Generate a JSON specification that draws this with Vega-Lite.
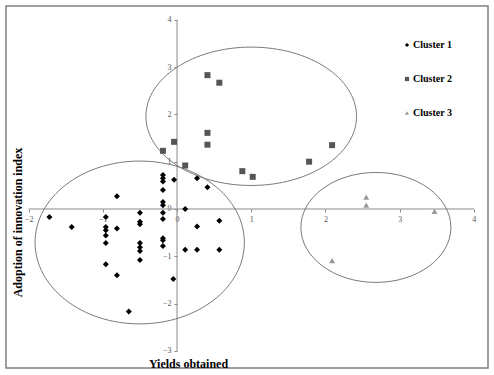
{
  "$schema": "https://vega.github.io/schema/vega-lite/v6.json",
  "width": 482,
  "height": 362,
  "autosize": {"type": "none"},
  "padding": {"left": 6, "top": 6, "right": 6, "bottom": 7},
  "background": "white",
  "config": {
    "view": {"stroke": "#808080", "strokeWidth": 1.5},
    "font": "Liberation Serif",
    "legend": {"labelFont": "Liberation Serif"}
  },
  "datasets": {
    "pts": [
      {"cluster": "Cluster 1", "x": -1.72, "y": -0.17},
      {"cluster": "Cluster 1", "x": -1.42, "y": -0.38},
      {"cluster": "Cluster 1", "x": -0.96, "y": -0.17},
      {"cluster": "Cluster 1", "x": -0.96, "y": -0.38},
      {"cluster": "Cluster 1", "x": -0.96, "y": -0.45},
      {"cluster": "Cluster 1", "x": -0.96, "y": -0.56},
      {"cluster": "Cluster 1", "x": -0.96, "y": -0.72},
      {"cluster": "Cluster 1", "x": -0.96, "y": -1.17},
      {"cluster": "Cluster 1", "x": -0.81, "y": 0.27},
      {"cluster": "Cluster 1", "x": -0.81, "y": -0.41},
      {"cluster": "Cluster 1", "x": -0.81, "y": -1.40},
      {"cluster": "Cluster 1", "x": -0.65, "y": -2.17},
      {"cluster": "Cluster 1", "x": -0.50, "y": -0.08},
      {"cluster": "Cluster 1", "x": -0.50, "y": -0.27},
      {"cluster": "Cluster 1", "x": -0.50, "y": -0.32},
      {"cluster": "Cluster 1", "x": -0.50, "y": -0.72},
      {"cluster": "Cluster 1", "x": -0.50, "y": -0.81},
      {"cluster": "Cluster 1", "x": -0.50, "y": -0.89},
      {"cluster": "Cluster 1", "x": -0.50, "y": -1.08},
      {"cluster": "Cluster 1", "x": -0.19, "y": 0.72},
      {"cluster": "Cluster 1", "x": -0.19, "y": 0.65},
      {"cluster": "Cluster 1", "x": -0.19, "y": 0.58},
      {"cluster": "Cluster 1", "x": -0.19, "y": 0.40},
      {"cluster": "Cluster 1", "x": -0.19, "y": 0.15},
      {"cluster": "Cluster 1", "x": -0.19, "y": 0.08},
      {"cluster": "Cluster 1", "x": -0.19, "y": -0.08},
      {"cluster": "Cluster 1", "x": -0.19, "y": -0.21},
      {"cluster": "Cluster 1", "x": -0.19, "y": -0.62},
      {"cluster": "Cluster 1", "x": -0.19, "y": -0.66},
      {"cluster": "Cluster 1", "x": -0.19, "y": -0.78},
      {"cluster": "Cluster 1", "x": -0.04, "y": 0.62},
      {"cluster": "Cluster 1", "x": -0.05, "y": -1.48},
      {"cluster": "Cluster 1", "x": 0.11, "y": 0.0},
      {"cluster": "Cluster 1", "x": 0.11, "y": -0.86},
      {"cluster": "Cluster 1", "x": 0.27, "y": 0.65},
      {"cluster": "Cluster 1", "x": 0.27, "y": -0.37},
      {"cluster": "Cluster 1", "x": 0.27, "y": -0.86},
      {"cluster": "Cluster 1", "x": 0.41, "y": 0.46},
      {"cluster": "Cluster 1", "x": 0.57, "y": -0.25},
      {"cluster": "Cluster 1", "x": 0.57, "y": -0.86},
      {"cluster": "Cluster 2", "x": -0.19, "y": 1.23},
      {"cluster": "Cluster 2", "x": -0.04, "y": 1.42},
      {"cluster": "Cluster 2", "x": 0.11, "y": 0.92},
      {"cluster": "Cluster 2", "x": 0.41, "y": 2.83},
      {"cluster": "Cluster 2", "x": 0.57, "y": 2.67},
      {"cluster": "Cluster 2", "x": 0.41, "y": 1.61},
      {"cluster": "Cluster 2", "x": 0.41, "y": 1.36},
      {"cluster": "Cluster 2", "x": 0.88, "y": 0.80},
      {"cluster": "Cluster 2", "x": 1.02, "y": 0.68},
      {"cluster": "Cluster 2", "x": 1.78, "y": 1.00},
      {"cluster": "Cluster 2", "x": 2.09, "y": 1.35},
      {"cluster": "Cluster 3", "x": 2.55, "y": 0.25},
      {"cluster": "Cluster 3", "x": 2.55, "y": 0.08},
      {"cluster": "Cluster 3", "x": 3.47, "y": -0.05},
      {"cluster": "Cluster 3", "x": 2.09, "y": -1.09}
    ]
  },
  "layer": [
    {
      "data": {"values": [{"x": -2, "x2": 4, "y": 0}]},
      "mark": {"type": "rule", "color": "#8a8a8a", "strokeWidth": 1},
      "encoding": {
        "x": {"field": "x", "type": "quantitative", "scale": {"domain": [-2.305, 4.191], "nice": false, "zero": false},
          "axis": {"values": [-2, -1, 0, 1, 2, 3, 4], "format": "d", "offset": -159, "domain": false, "grid": false, "tickSize": 3, "tickColor": "#8a8a8a",
            "labelFont": "Liberation Serif", "labelFontSize": 8, "labelColor": "#555555", "labelPadding": 3, "labelFlush": false, "labelOverlap": false,
            "title": "Yields obtained", "titleFont": "Liberation Serif", "titleFontSize": 12, "titleFontWeight": "bold", "titleColor": "#000",
            "titleX": 182, "titleY": 154, "titleBaseline": "middle", "titleAlign": "center", "titleAnchor": null}},
        "x2": {"field": "x2"},
        "y": {"field": "y", "type": "quantitative", "scale": {"domain": [-3.362, 4.292], "nice": false, "zero": false},
          "axis": {"values": [-3, -2, -1, 0, 1, 2, 3, 4], "format": "d", "offset": -171, "domain": false, "grid": false, "tickSize": 3, "tickColor": "#8a8a8a",
            "labelFont": "Liberation Serif", "labelFontSize": 8, "labelColor": "#555555", "labelPadding": 3, "labelFlush": false, "labelOverlap": false,
            "title": "Adoption of innovation index", "titleFont": "Liberation Serif", "titleFontSize": 12, "titleFontWeight": "bold", "titleColor": "#000",
            "titleX": -160, "titleY": 216, "titleBaseline": "middle", "titleAlign": "center", "titleAnchor": null, "titleAngle": -90}}
      }
    },
    {
      "data": {"values": [{"x": 0, "y": -3, "y2": 4}]},
      "mark": {"type": "rule", "color": "#8a8a8a", "strokeWidth": 1},
      "encoding": {
        "x": {"field": "x", "type": "quantitative"},
        "y": {"field": "y", "type": "quantitative"},
        "y2": {"field": "y2"}
      }
    },
    {
      "data": {"values": [{"x": -0.503, "y": -0.708}]},
      "mark": {"type": "point", "filled": false, "stroke": "#7a7a7a", "strokeWidth": 1, "opacity": 1,
        "shape": "M-1,0A1,0.778,0,1,1,1,0A1,0.778,0,1,1,-1,0Z", "size": 43810},
      "encoding": {
        "x": {"field": "x", "type": "quantitative"},
        "y": {"field": "y", "type": "quantitative"}
      }
    },
    {
      "data": {"values": [{"x": 1.0, "y": 1.96}]},
      "mark": {"type": "point", "filled": false, "stroke": "#7a7a7a", "strokeWidth": 1, "opacity": 1,
        "shape": "M-1,0A1,0.657,0,1,1,1,0A1,0.657,0,1,1,-1,0Z", "size": 44352},
      "encoding": {
        "x": {"field": "x", "type": "quantitative"},
        "y": {"field": "y", "type": "quantitative"}
      }
    },
    {
      "data": {"values": [{"x": 2.68, "y": -0.39}]},
      "mark": {"type": "point", "filled": false, "stroke": "#7a7a7a", "strokeWidth": 1, "opacity": 1,
        "shape": "M-1,0A1,0.733,0,1,1,1,0A1,0.733,0,1,1,-1,0Z", "size": 22500},
      "encoding": {
        "x": {"field": "x", "type": "quantitative"},
        "y": {"field": "y", "type": "quantitative"}
      }
    },
    {
      "data": {"name": "pts"},
      "mark": {"type": "point", "filled": true, "opacity": 1, "size": 36},
      "encoding": {
        "x": {"field": "x", "type": "quantitative"},
        "y": {"field": "y", "type": "quantitative"},
        "color": {"field": "cluster", "type": "nominal",
          "scale": {"domain": ["Cluster 1", "Cluster 2", "Cluster 3"], "range": ["#000000", "#555555", "#999999"]},
          "legend": {"title": null, "orient": "none", "legendX": 396, "legendY": 34, "padding": 0, "rowPadding": 24,
            "labelFont": "Liberation Serif", "labelFontSize": 10, "labelFontWeight": "bold", "labelColor": "#000", "labelOffset": 1,
            "symbolSize": 18, "symbolStrokeWidth": 0}},
        "shape": {"field": "cluster", "type": "nominal",
          "scale": {"domain": ["Cluster 1", "Cluster 2", "Cluster 3"], "range": ["diamond", "square", "triangle-up"]}}
      }
    }
  ]
}
